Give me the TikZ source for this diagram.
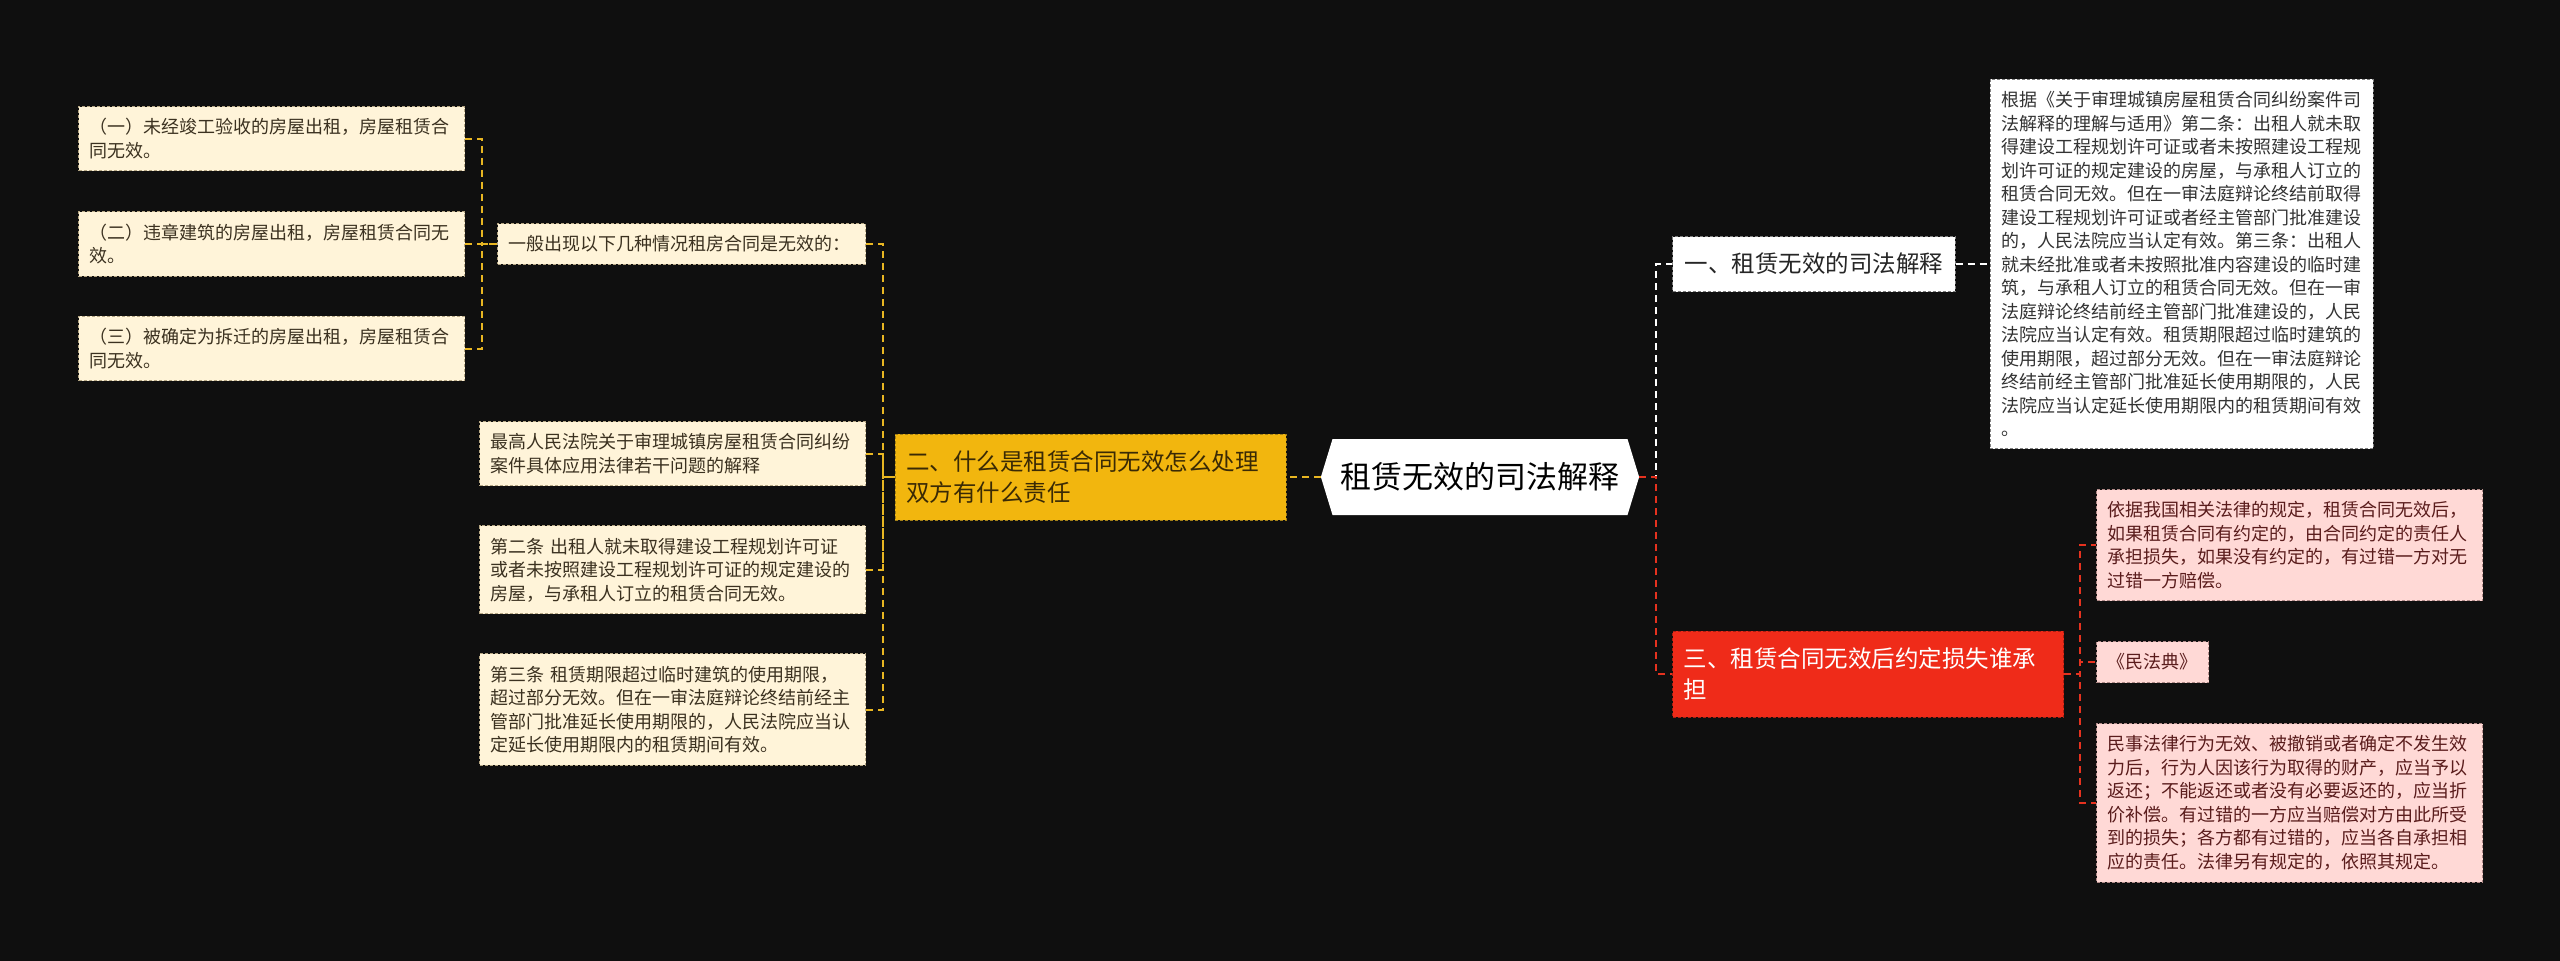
\documentclass[tikz,border=0pt]{standalone}
\usepackage{fontspec}
\setmainfont{Noto Sans CJK SC}
\usetikzlibrary{positioning,shapes.symbols}

\definecolor{bgcol}{HTML}{0F0F0F}
\definecolor{leaffill}{HTML}{FFF4D9}
\definecolor{leafline}{HTML}{B5A683}
\definecolor{leaftext}{HTML}{3B3120}
\definecolor{yelfill}{HTML}{F2B60E}
\definecolor{yeltext}{HTML}{3A2A05}
\definecolor{yelline}{HTML}{E8B622}
\definecolor{redfill}{HTML}{EF2B19}
\definecolor{redline}{HTML}{E5321F}
\definecolor{pinkfill}{HTML}{FFD9D6}
\definecolor{pinkline}{HTML}{B08A88}
\definecolor{pinktext}{HTML}{5A1C1C}

\begin{document}
\begin{tikzpicture}[
    x=1pt, y=-1pt,
    node distance=39pt and 34pt,
    leaf/.style={draw=leafline, fill=leaffill, text=leaftext, dash pattern=on 3pt off 2pt, line width=1pt,
        align=left, font=\fontsize{18}{23.5}\selectfont, text width=364pt, inner xsep=11pt, inner ysep=12pt},
    pinkleaf/.style={leaf, draw=pinkline, fill=pinkfill, text=pinktext},
    mainbox/.style={dash pattern=on 3pt off 2pt, line width=1pt, align=left,
        font=\fontsize{23.5}{31}\selectfont, text width=369pt, inner xsep=11pt, minimum height=86pt},
    yline/.style={draw=yelline, line width=2pt, dash pattern=on 7pt off 5pt},
    wline/.style={draw=white, line width=2pt, dash pattern=on 7pt off 5pt},
    rline/.style={draw=redline, line width=2pt, dash pattern=on 7pt off 5pt}
]
\path[use as bounding box, fill=bgcol] (0,0) rectangle (2560,961);

% centre
\node[signal, signal to=west and east, signal pointer angle=146, fill=white, text=black,
    minimum width=314pt, minimum height=76pt, inner xsep=8pt,
    font=\fontsize{31}{31}\selectfont] (root) at (1480,477) {租赁无效的司法解释};

% left branch
\node[mainbox, draw=yelline!70!black, fill=yelfill, text=yeltext, left=34pt of root] (what) {二、什么是租赁合同无效怎么处理\\双方有什么责任};

\node[leaf, text width=346pt, anchor=west] (general) at (497,244) {一般出现以下几种情况租房合同是无效的：};
\node[leaf, anchor=north west] (case1) at (78,106) {（一）未经竣工验收的房屋出租，房屋租赁合\\同无效。};
\node[leaf, below=40pt of case1] (case2) {（二）违章建筑的房屋出租，房屋租赁合同无\\效。};
\node[leaf, below=of case2] (case3) {（三）被确定为拆迁的房屋出租，房屋租赁合\\同无效。};

\node[leaf, anchor=north west] (law1) at (479,421) {最高人民法院关于审理城镇房屋租赁合同纠纷\\案件具体应用法律若干问题的解释};
\node[leaf, below=of law1] (law2) {第二条 出租人就未取得建设工程规划许可证\\或者未按照建设工程规划许可证的规定建设的\\房屋，与承租人订立的租赁合同无效。};
\node[leaf, below=of law2] (law3) {第三条 租赁期限超过临时建筑的使用期限，\\超过部分无效。但在一审法庭辩论终结前经主\\管部门批准延长使用期限的，人民法院应当认\\定延长使用期限内的租赁期间有效。};

% right branch
\node[draw=gray, fill=white, text=black!85, dash pattern=on 3pt off 2pt, line width=1pt,
    font=\fontsize{23.5}{31}\selectfont, inner xsep=12pt, minimum height=55pt, anchor=west] (judicial) at (1672,264) {一、租赁无效的司法解释};
\node[leaf, draw=gray, fill=white, text=black!80, text width=361pt, right=34pt of judicial] (detail) {根据《关于审理城镇房屋租赁合同纠纷案件司\\法解释的理解与适用》第二条：出租人就未取\\得建设工程规划许可证或者未按照建设工程规\\划许可证的规定建设的房屋，与承租人订立的\\租赁合同无效。但在一审法庭辩论终结前取得\\建设工程规划许可证或者经主管部门批准建设\\的，人民法院应当认定有效。第三条：出租人\\就未经批准或者未按照批准内容建设的临时建\\筑，与承租人订立的租赁合同无效。但在一审\\法庭辩论终结前经主管部门批准建设的，人民\\法院应当认定有效。租赁期限超过临时建筑的\\使用期限，超过部分无效。但在一审法庭辩论\\终结前经主管部门批准延长使用期限的，人民\\法院应当认定延长使用期限内的租赁期间有效\\。};

\node[mainbox, draw=redfill!70!black, fill=redfill, text=white, anchor=west] (loss) at (1672,674) {三、租赁合同无效后约定损失谁承\\担};

\node[pinkleaf, anchor=north west] (rule) at (2096,489) {依据我国相关法律的规定，租赁合同无效后，\\如果租赁合同有约定的，由合同约定的责任人\\承担损失，如果没有约定的，有过错一方对无\\过错一方赔偿。};
\node[pinkleaf, text width=, below=40pt of rule.south west, anchor=north west] (code) {《民法典》};
\node[pinkleaf, below=40pt of code.south west, anchor=north west] (civil) {民事法律行为无效、被撤销或者确定不发生效\\力后，行为人因该行为取得的财产，应当予以\\返还；不能返还或者没有必要返还的，应当折\\价补偿。有过错的一方应当赔偿对方由此所受\\到的损失；各方都有过错的，应当各自承担相\\应的责任。法律另有规定的，依照其规定。};

% connectors
\draw[yline] (root.west) -- (what.east);
\draw[yline] (general.east) -- ++(17,0) |- (what.west);
\draw[yline] (law1.east) -- ++(17,0) |- (what.west);
\draw[yline] (law2.east) -- ++(17,0) |- (what.west);
\draw[yline] (law3.east) -- ++(17,0) |- (what.west);
\draw[yline] (case1.east) -- ++(17,0) |- (general.west);
\draw[yline] (case2.east) -- ++(17,0) |- (general.west);
\draw[yline] (case3.east) -- ++(17,0) |- (general.west);

\draw[wline] (root.east) -- ++(17,0) |- (judicial.west);
\draw[wline] (judicial.east) -- (judicial.east -| detail.west);
\draw[rline] (root.east) -- ++(17,0) |- (loss.west);
\draw[rline] (loss.east) -- ++(16,0) |- (rule.west);
\draw[rline] (loss.east) -- ++(16,0) |- (code.west);
\draw[rline] (loss.east) -- ++(16,0) |- (civil.west);
\end{tikzpicture}
\end{document}
